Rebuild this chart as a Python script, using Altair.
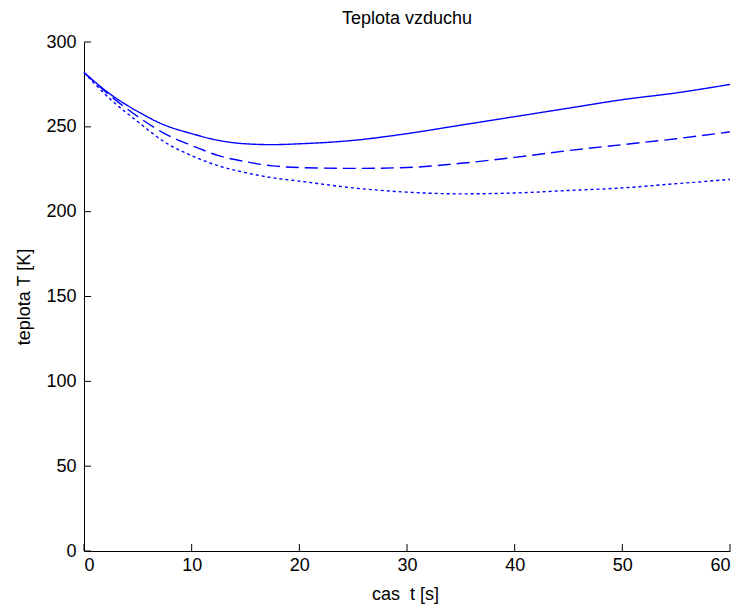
import altair as alt
import pandas as pd

t = [0, 2.5, 5, 7.5, 10, 12.5, 15, 17.5, 20, 25, 30, 35, 40, 45, 50, 55, 60]
solid = [282, 269, 259, 251, 246, 242, 240, 239.5, 240, 242, 246, 251, 256, 261, 266, 270, 275]
dashed = [282, 268, 256, 246, 239, 233, 229.5, 227, 226, 225.5, 226, 228.5, 232, 236, 239.5, 243, 247]
dotted = [282, 266, 253, 241, 233, 227, 223, 220, 218, 214, 211.5, 210.5, 211, 212.5, 214, 216.5, 219]
series = ["s1", "s2", "s3"]
x_ticks = [0, 10, 20, 30, 40, 50, 60]
y_ticks = [0, 50, 100, 150, 200, 250, 300]

rows = []
for name, vals in zip(series, [solid, dashed, dotted]):
    for ti, v in zip(t, vals):
        rows.append({"t": ti, "T": v, "s": name})
df = pd.DataFrame(rows)

FONT = "Liberation Sans, Arial"
W, H = 646, 509
FS = 18

xs = alt.Scale(domain=[0, 60], nice=False, zero=False)
ys = alt.Scale(domain=[0, 300], nice=False)

lines = alt.Chart(df).mark_line(color="#0000ff", strokeWidth=1.4, interpolate="monotone").encode(
    x=alt.X("t:Q", scale=xs, axis=alt.Axis(values=x_ticks, ticks=False, grid=False,
                                           title="cas\u00a0 t [s]", labelPadding=5,
                                           titleX=W / 2 - 2, titleY=48, titleBaseline="alphabetic",
                                           titleAlign="center")),
    y=alt.Y("T:Q", scale=ys, axis=alt.Axis(values=y_ticks, ticks=False, grid=False,
                                           title="teplota T [K]", labelPadding=8,
                                           titleX=-60, titleY=H / 2, titleAngle=-90,
                                           titleBaseline="middle", titleAlign="center")),
    strokeDash=alt.StrokeDash("s:N", scale=alt.Scale(domain=series, range=[[1, 0], [13, 6], [3, 3]]), legend=None),
    detail="s:N",
)

xt = alt.Chart(pd.DataFrame({"v": x_ticks})).mark_rule(color="black", strokeWidth=1).encode(
    x=alt.X("v:Q", scale=xs), y=alt.value(H), y2=alt.value(H - 7))
yt = alt.Chart(pd.DataFrame({"v": y_ticks})).mark_rule(color="black", strokeWidth=1).encode(
    y=alt.Y("v:Q", scale=ys), x=alt.value(0), x2=alt.value(7))

chart = alt.layer(lines, xt, yt).properties(
    width=W, height=H,
    background="white",
    title=alt.TitleParams("Teplota vzduchu", font=FONT, fontSize=FS, fontWeight="normal", color="black",
                          offset=5),
    autosize=alt.AutoSizeParams(type="none"),
    padding={"left": 84, "top": 42, "right": 14, "bottom": 62},
).configure_view(stroke=None).configure_axis(
    domainColor="black", domainWidth=1, labelFont=FONT, labelFontSize=FS, labelColor="black",
    titleFont=FONT, titleFontSize=FS, titleFontWeight="normal", titleColor="black",
)

chart.save("out.html", embed_options={"renderer": "svg", "actions": False})
